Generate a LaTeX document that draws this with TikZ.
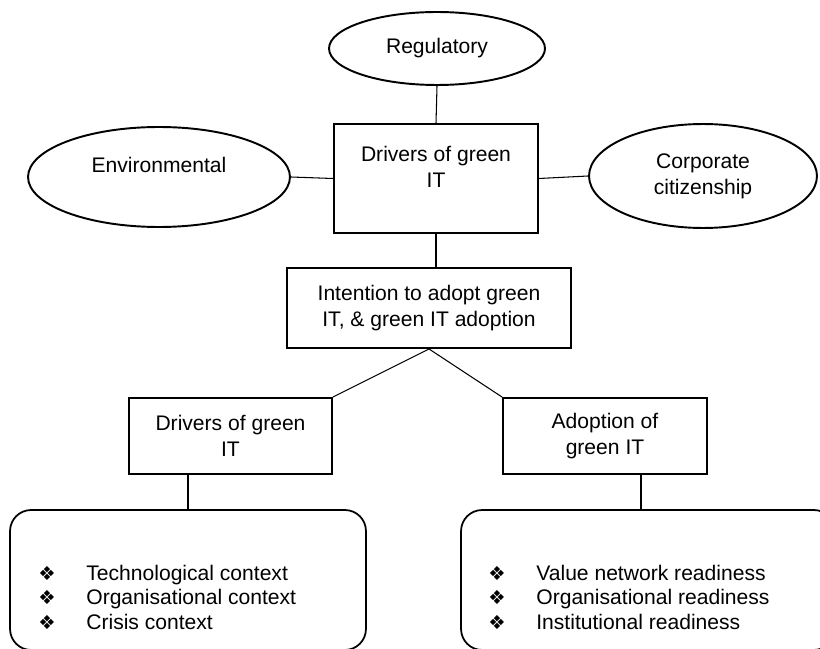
\documentclass[tikz,border=0pt]{standalone}
\usepackage{fontspec}
\setmainfont{Liberation Sans}
\newfontfamily\dingfont{DejaVu Sans}
\usepackage{tikz}
\usetikzlibrary{shapes.geometric}
\tikzset{
  txt/.style={font=\fontsize{12}{14.8}\selectfont, align=center, inner sep=0pt},
  box/.style={draw, line width=1.1pt, rectangle, inner sep=0pt, txt},
  oval/.style={draw, line width=1.1pt, ellipse, inner sep=0pt, txt},
  listbox/.style={draw, line width=1pt, rectangle, rounded corners=12pt},
  link/.style={draw, line width=0.6pt},
  bul/.style={font=\dingfont\fontsize{11}{12}\selectfont, inner sep=0pt},
  item/.style={font=\fontsize{12}{14}\selectfont, inner sep=0pt, anchor=base west}
}

\begin{document}
\begin{tikzpicture}[x=0.02cm, y=-0.02cm]
  \useasboundingbox (0,0) rectangle (820,648);
  \clip (0,0) rectangle (820,648);

  % drivers and their three sources
  \node[box, minimum width=4.08cm, minimum height=2.18cm] (drv) at (436,178.5) {};
  \node[txt] (drvtxt) at (436,167) {Drivers of green\\IT};
  \node[oval, minimum width=4.32cm, minimum height=1.46cm] (reg) at (437,48.5) {Regulatory};
  \node[oval, minimum width=5.24cm, minimum height=2.0cm] (env) at (159,177) {};
  \node[txt] (envtxt) at (159,165) {Environmental};
  \node[oval, minimum width=4.56cm, minimum height=2.08cm] (corp) at (703,176) {Corporate\\citizenship};

  \draw[link] (reg.south) -- (drv.north);
  \draw[link] (env.east) -- (drv.west);
  \draw[link] (drv.east) -- (corp.west);

  % intention / adoption
  \node[box, minimum width=5.68cm, minimum height=1.6cm] (intent) at (429,308)
    {Intention to adopt green\\IT, \& green IT adoption};
  \draw[link] (drv.south) -- (drv.south |- intent.north);

  \node[box, minimum width=4.06cm, minimum height=1.52cm] (ldrv) at (230.5,436) {Drivers of green\\IT};
  \node[box, minimum width=4.08cm, minimum height=1.52cm] (radp) at (605,436) {Adoption of\\green IT};
  \draw[link] (intent.south) -- (ldrv.north east);
  \draw[link] (intent.south) -- (radp.north west);

  % context lists
  \node[listbox, minimum width=7.12cm, minimum height=2.8cm] (lctx) at (188,580) {};
  \node[listbox, minimum width=7.48cm, minimum height=2.8cm] (rctx) at (648,580) {};
  \coordinate (rtap) at (641,510);
  \draw[link] (ldrv.south -| lctx.north) -- (lctx.north);
  \draw[link] (radp.south -| rtap) -- (rtap);

  \foreach \t [count=\i] in {Technological context, Organisational context, Crisis context}{
    \node[bul] (lb\i) at (47,548.5+24.5*\i) {❖};
    \node[item] (lt\i) at (86,555.5+24.5*\i) {\t};
  }
  \foreach \t [count=\i] in {Value network readiness, Organisational readiness, Institutional readiness}{
    \node[bul] (rb\i) at (497,548.5+24.5*\i) {❖};
    \node[item] (rt\i) at (536,555.5+24.5*\i) {\t};
  }
\end{tikzpicture}
\end{document}
